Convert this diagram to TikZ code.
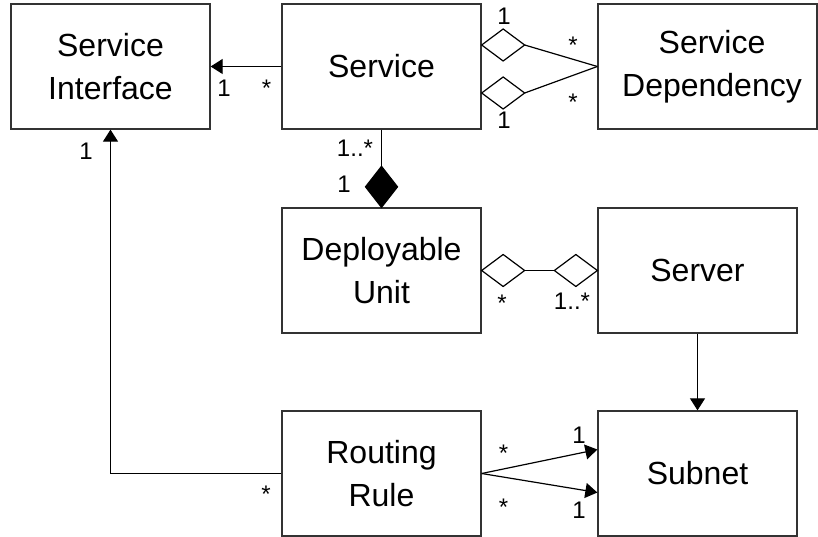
\documentclass[tikz,border=0pt]{standalone}
\usepackage{fontspec}
\setmainfont{Liberation Sans}
\usetikzlibrary{arrows.meta,shapes.geometric,calc}
\begin{document}
\begin{tikzpicture}[x=1pt,y=-1pt,
  cls/.style={draw=black!80, line width=1.3pt, fill=white, minimum width=199pt,
    minimum height=125pt, align=center, inner sep=0pt,
    font=\fontsize{32}{43}\selectfont},
  link/.style={draw=black, line width=1.2pt},
  arr/.style={link, -{Triangle[length=12pt,width=15pt]}},
  odia/.style={diamond, draw=black, line width=1.2pt, fill=white, inner sep=0pt,
    outer sep=0pt, minimum width=43pt, minimum height=32pt},
  fdia/.style={diamond, draw=black, line width=1.2pt, fill=black, inner sep=0pt,
    outer sep=0pt, minimum width=32pt, minimum height=41pt},
  mult/.style={anchor=base, inner sep=0pt, font=\fontsize{24}{28}\selectfont}]
\useasboundingbox (0,0) rectangle (818,537);

% classes
\node[cls] (si)  at (110.5,66.5)  {Service\\Interface};
\node[cls] (svc) at (381.5,66.5)  {Service};
\node[cls, minimum width=219pt] (dep) at (707.5,66.5) {};
\node[align=center, font=\fontsize{32}{43}\selectfont] (deptext) at (712,66.5) {Service\\Dependency};
\node[cls] (du)  at (381.5,270.5) {Deployable\\Unit};
\node[cls] (srv) at (697.5,270.5) {Server};
\node[cls] (rr)  at (381.5,473.5) {Routing\\Rule};
\node[cls] (sub) at (697.5,473.5) {Subnet};

% Service -> Service Interface
\draw[arr] (svc.west) -- (si.east);
\node[mult] (m1) at (224,97) {1};
\node[mult] (m2) at (266.5,97) {*};

% Service <>-- Service Dependency (two aggregations)
\node[odia, anchor=west] (da) at ($(svc.east)+(0,-21.5)$) {};
\node[odia, anchor=west] (db) at ($(svc.east)+(0,26.5)$) {};
\draw[link] (da.east) -- (dep.west);
\draw[link] (db.east) -- (dep.west);
\node[mult] (m3) at (504,25) {1};
\node[mult] (m4) at (504,129) {1};
\node[mult] (m5) at (573,54) {*};
\node[mult] (m6) at (573,111) {*};

% Service <*>-- Deployable Unit (composition)
\node[fdia, anchor=south] (dc) at (du.north) {};
\draw[link] (svc.south) -- (dc.north);
\node[mult] (m7) at (355,157) {1..*};
\node[mult] (m8) at (344,193) {1};

% Deployable Unit <>--<> Server
\node[odia, anchor=west] (dd) at (du.east) {};
\node[odia, anchor=east] (de) at (srv.west) {};
\draw[link] (dd.east) -- (de.west);
\node[mult] (m9) at (502,311) {*};
\node[mult] (m10) at (572,309) {1..*};

% Server -> Subnet
\draw[arr] (srv.south) -- (sub.north);

% Routing Rule -> Subnet (two associations)
\draw[arr] (rr.east) -- ($(sub.west)+(0,-24)$);
\draw[arr] (rr.east) -- ($(sub.west)+(0,19)$);
\node[mult] (m11) at (503.5,461) {*};
\node[mult] (m12) at (503.5,515) {*};
\node[mult] (m13) at (579,443) {1};
\node[mult] (m14) at (579,518) {1};

% Routing Rule -> Service Interface
\draw[arr] (rr.west) -| (si.south);
\node[mult] (m15) at (86,160) {1};
\node[mult] (m16) at (266,502) {*};
\end{tikzpicture}
\end{document}
